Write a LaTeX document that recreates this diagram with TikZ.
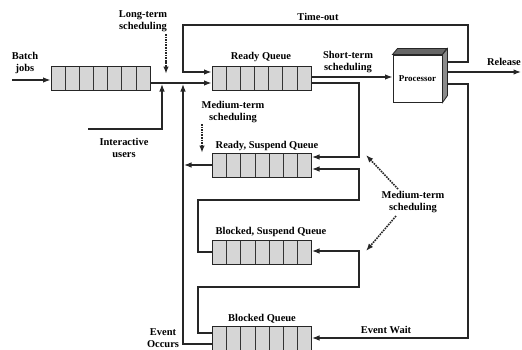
\documentclass[tikz,border=0pt]{standalone}
\usepackage{fontspec}
\setmainfont{Liberation Serif}
\usetikzlibrary{arrows.meta,calc}
\begin{document}
\begin{tikzpicture}[x=1bp,y=-1bp,
  lbl/.style={font=\fontsize{10.5}{12.5}\selectfont\bfseries, align=center, inner sep=0pt},
  queue/.style={draw=black!85, line width=1pt, fill=black!16, minimum width=99bp, minimum height=24bp, inner sep=0pt,
    path picture={\foreach \k in {1,...,6}{\draw[line width=0.7pt,black!80] ($(path picture bounding box.north west)!\k/7!(path picture bounding box.north east)$) -- ($(path picture bounding box.south west)!\k/7!(path picture bounding box.south east)$);}}},
  conn/.style={line width=1.1pt, black!85},
  arr/.style={conn, -{Latex[length=7.5bp,width=5.5bp]}},
  dots/.style={line width=1.6pt, black!85, densely dotted, -{Latex[length=7.5bp,width=5.5bp]}}
]
\useasboundingbox (0,0) rectangle (522,349);

% queues
\node[queue] (batch) at (100.5,78) {};
\node[queue] (ready) at (261.5,78) {};
\node[queue] (rsusp) at (262,165) {};
\node[queue] (bsusp) at (262,252) {};
\node[queue] (blocked) at (262,338) {};

% processor
\node[draw=black!85, line width=1pt, fill=white, minimum width=49bp, minimum height=47bp, inner sep=0pt,
      font=\fontsize{9}{10}\selectfont\bfseries] (proc) at (417.5,78.5) {Processor};
\draw[line width=0.8pt, black!85, fill=black!60] (proc.north west) -- ++(5,-6) -- ++(49,0) -- (proc.north east) -- cycle;
\draw[line width=0.8pt, black!85, fill=black!45] (proc.north east) -- ++(5,-6) -- ++(0,47) -- (proc.south east) -- cycle;

% labels
\node[lbl] (lbatch) at (25,63) {Batch\\jobs};
\node[lbl] (llts) at (143,21) {Long-term\\scheduling};
\node[lbl] (linter) at (124,148) {Interactive\\users};
\node[lbl] (ltimeout) at (318,17) {Time-out};
\node[lbl] (lready) at (261,57) {Ready Queue};
\node[lbl] (lsts) at (348,62) {Short-term\\scheduling};
\node[lbl, anchor=east] (lrel) at (521,62) {Release};
\node[lbl] (lmts1) at (233,112) {Medium-term\\scheduling};
\node[lbl] (lrsusp) at (267,146) {Ready, Suspend Queue};
\node[lbl] (lmts2) at (413,202) {Medium-term\\scheduling};
\node[lbl] (lbsusp) at (271,232) {Blocked, Suspend Queue};
\node[lbl] (lblocked) at (262,319) {Blocked Queue};
\node[lbl] (lew) at (386,330) {Event Wait};
\node[lbl] (leo) at (163,338) {Event\\Occurs};

% named points
\coordinate (bsrc) at (12,80);
\coordinate (iusr) at (88,129);
\coordinate (jn1) at (162,84);
\coordinate (jn2) at (183,84);
\coordinate (jn3) at (184,165);
\coordinate (pto) at (447,62);
\coordinate (prel) at (447,72);
\coordinate (pew) at (447,84);
\coordinate (relend) at (521,72);
\coordinate (to1) at (468,25);
\coordinate (to2) at (183,25);
\coordinate (ewc) at (468,338);
\coordinate (c1) at (359,157);
\coordinate (c2) at (198,200);
\coordinate (c3) at (359,169);
\coordinate (c4) at (198,287);
\coordinate (c5) at (359,251);
\coordinate (lt1) at (166,34);
\coordinate (lt2) at (166,74);
\coordinate (mt1) at (202,124);
\coordinate (mt2) at (202,153);
\coordinate (mr1) at (398,189);
\coordinate (mr2) at (366,155);
\coordinate (mr3) at (396,216);
\coordinate (mr4) at (366,251);

% connectors
\draw[arr] (bsrc) -- (batch.west |- bsrc);
\draw[arr] (batch.east |- 0,83) -- (ready.west |- 0,83);
\draw[arr] (iusr) -| (jn1);
\draw[arr] (blocked.west |- 0,344) -| (jn2);
\draw[arr] (rsusp.west) -- (jn3);
\draw[arr] (pto) -| (to1) -- (to2) |- (ready.west |- 0,72);
\draw[arr] (ready.east |- 0,77) -- (proc.west |- 0,77);
\draw[arr] (prel) -- (relend);
\draw[arr] (pew) -| (ewc) -- (blocked.east);
\draw[arr] (ready.east |- 0,83) -| (c1) -- (rsusp.east |- c1);
\draw[arr] (bsusp.west) -| (c2) -| (c3) -- (rsusp.east |- c3);
\draw[arr] (blocked.west |- 0,333) -| (c4) -| (c5) -- (bsusp.east |- c5);

% dotted scheduling arrows
\draw[dots] (lt1) -- (lt2);
\draw[dots] (mt1) -- (mt2);
\draw[dots] (mr1) -- (mr2);
\draw[dots] (mr3) -- (mr4);
\end{tikzpicture}
\end{document}
